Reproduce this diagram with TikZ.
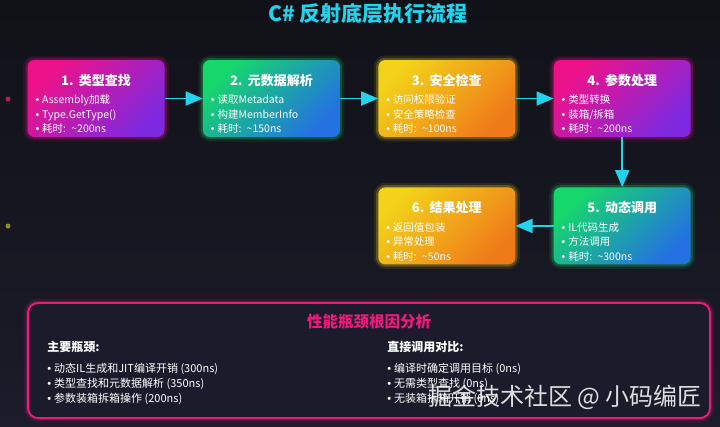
\documentclass[tikz,border=0pt]{standalone}
\usepackage{fontspec}
\setmainfont{Noto Sans CJK SC}
\newfontfamily\dotfont{Liberation Sans}
\usepackage{xcolor}
\usetikzlibrary{positioning, arrows.meta}

\definecolor{bgtop}{HTML}{111118}
\definecolor{bgbottom}{HTML}{1C1C2A}
\definecolor{flowcyan}{HTML}{22D3EE}
\definecolor{boxpink}{HTML}{EE1289}
\definecolor{boxpurple}{HTML}{7E29E0}
\definecolor{boxgreen}{HTML}{16D86A}
\definecolor{boxblue}{HTML}{2471E2}
\definecolor{boxyellow}{HTML}{F2D21A}
\definecolor{boxorange}{HTML}{EF7A1A}
\definecolor{panelpink}{HTML}{F0197D}
\definecolor{panelfill}{HTML}{1B1B2B}
\definecolor{dotred}{HTML}{B0224A}
\definecolor{dotolive}{HTML}{8A8E2A}

\newcommand{\steptitle}[1]{\makebox[121pt][c]{\rule{0pt}{22pt}\fontsize{13}{16}\selectfont\bfseries #1}}
\newcommand{\itm}{{\dotfont •}\hspace{3pt}}

\begin{document}
\begin{tikzpicture}[
    x=1pt, y=-1pt,
    node distance=50pt and 38pt,
    glow/.style={preaction={draw=#1, line width=9pt, draw opacity=0.10},
                 preaction={draw=#1, line width=4.5pt, draw opacity=0.25}},
    stepbox/.style={rounded corners=7pt, minimum width=137pt, minimum height=77pt,
                    text width=121pt, inner xsep=8pt, align=left, text=white,
                    font=\fontsize{10.5}{14.5}\selectfont},
    pinkbox/.style={stepbox, glow=boxpink, top color=boxpink, bottom color=boxpurple, shading angle=45},
    greenbox/.style={stepbox, glow=boxgreen, top color=boxgreen, bottom color=boxblue, shading angle=45},
    yellowbox/.style={stepbox, glow=boxyellow, top color=boxyellow, bottom color=boxorange, shading angle=45},
    flow/.style={draw=flowcyan, line width=1.8pt, -{Triangle[length=17pt, width=14pt]}},
    panel/.style={draw=panelpink, line width=1.8pt, fill=panelfill, rounded corners=10pt,
                  minimum width=682pt, minimum height=115pt, glow=panelpink},
    colhead/.style={text=white, font=\fontsize{12}{14}\selectfont\bfseries, inner sep=0pt},
    collist/.style={text=white, align=left, font=\fontsize{11}{15}\selectfont, inner sep=0pt}
]
% background
\shade[top color=bgtop, bottom color=bgbottom] (0,0) rectangle (720,426);
\useasboundingbox (0,0) rectangle (720,426);
\fill[dotred] (8,99) circle (2.5pt);
\fill[dotolive] (8,226) circle (2.5pt);

\node[text=flowcyan, font=\fontsize{21}{23}\selectfont\bfseries] (title) at (368,14) {C\# 反射底层执行流程};

% flow steps
\node[pinkbox] (find) at (96,98.5) {\steptitle{1. 类型查找}\\[4pt]
    \itm Assembly加载\\ \itm Type.GetType()\\ \itm 耗时: \textasciitilde200ns};
\node[greenbox, right=of find] (meta) {\steptitle{2. 元数据解析}\\[4pt]
    \itm 读取Metadata\\ \itm 构建MemberInfo\\ \itm 耗时: \textasciitilde150ns};
\node[yellowbox, right=of meta] (secure) {\steptitle{3. 安全检查}\\[4pt]
    \itm 访问权限验证\\ \itm 安全策略检查\\ \itm 耗时: \textasciitilde100ns};
\node[pinkbox, right=of secure] (params) {\steptitle{4. 参数处理}\\[4pt]
    \itm 类型转换\\ \itm 装箱/拆箱\\ \itm 耗时: \textasciitilde200ns};
\node[greenbox, below=of params] (invoke) {\steptitle{5. 动态调用}\\[4pt]
    \itm IL代码生成\\ \itm 方法调用\\ \itm 耗时: \textasciitilde300ns};
\node[yellowbox, left=of invoke] (result) {\steptitle{6. 结果处理}\\[4pt]
    \itm 返回值包装\\ \itm 异常处理\\ \itm 耗时: \textasciitilde50ns};

\draw[flow] (find) -- (meta);
\draw[flow] (meta) -- (secure);
\draw[flow] (secure) -- (params);
\draw[flow] (params) -- (invoke);
\draw[flow] (invoke) -- (result);

% analysis panel
\node[panel] (analysis) at (369,360.5) {};
\node[text=panelpink, font=\fontsize{15.5}{17}\selectfont\bfseries] (analysistitle)
    at ([yshift=-20pt]analysis.north) {性能瓶颈根因分析};
\node[colhead, anchor=west] (mainhead) at ([xshift=20pt, yshift=-45pt]analysis.north west) {主要瓶颈:};
\node[collist, anchor=north west] (mainlist) at ([yshift=-10pt]mainhead.south west)
    {\itm 动态IL生成和JIT编译开销 (300ns)\\ \itm 类型查找和元数据解析 (350ns)\\ \itm 参数装箱拆箱操作 (200ns)};
\node[colhead, anchor=west] (directhead) at ([xshift=340pt]mainhead.west) {直接调用对比:};
\node[collist, anchor=north west] (directlist) at ([yshift=-10pt]directhead.south west)
    {\itm 编译时确定调用目标 (0ns)\\ \itm 无需类型查找 (0ns)\\ \itm 无装箱拆箱开销 (0ns)};

\node[text=white, opacity=0.85, font=\fontsize{24}{26}\selectfont] (mark) at (565,397) {掘金技术社区 @ 小码编匠};
\end{tikzpicture}
\end{document}
